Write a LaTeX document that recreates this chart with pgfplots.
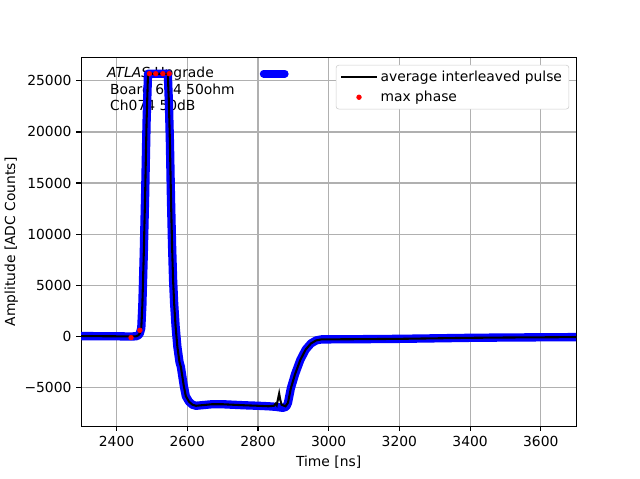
\documentclass[border=0pt]{standalone}
\usepackage{fontspec}
\setmainfont{DejaVu Sans}
\usepackage{pgfplots}
\pgfplotsset{compat=1.18}
\begin{document}
\begin{tikzpicture}
\begin{axis}[
 scale only axis, width=357.12pt, height=265.68pt,
 xmin=2300, xmax=3700, ymin=-8790, ymax=27250,
 xtick={2400,2600,...,3600},
 ytick={-5000,0,5000,10000,15000,20000,25000},
 yticklabels={−5000,0,5000,10000,15000,20000,25000},
 scaled y ticks=false, scaled x ticks=false,
 /pgf/number format/1000 sep={},
 /pgf/number format/assume math mode=true,
 grid=major, grid style={color=black!31, line width=0.8pt},
 axis line style={line width=0.8pt},
 tick style={black, line width=0.8pt}, tick align=outside, major tick length=3.5pt,
 tick pos=left,
 xlabel={Time [ns]}, ylabel={Amplitude [ADC Counts]},
 ylabel style={at={(rel axis cs:0,0.5)}, anchor=center, rotate=0, yshift=50.4pt},
 xlabel style={at={(rel axis cs:0.5,0)}, anchor=center, yshift=-26pt},
 legend style={at={(0.986,0.981)}, anchor=north east, draw=black!20, rounded corners=2pt, font=\fontsize{10}{12}\selectfont, row sep=1.5pt},
 legend image code/.code={\draw[mark repeat=2,mark phase=2,#1] plot coordinates {(0cm,0cm) (0.45cm,0cm) (0.9cm,0cm)};},
 legend cell align=left,
 ticklabel style={font=\fontsize{10}{12}\selectfont},
 label style={font=\fontsize{10}{12}\selectfont},
]
\node[anchor=north west, align=left, inner sep=0pt, font=\fontsize{10}{12}\selectfont] at (rel axis cs:0.052,0.976) {\textit{ATLAS} Upgrade\\ \hspace*{2.2pt}Board 634 50ohm\\ \hspace*{2.2pt}Ch074 50dB};
% blue scatter band
\addplot[blue, line width=6pt, line join=round, line cap=round, forget plot] coordinates {
(2300,20)(2350,10)(2400,0)(2440,-20)(2455,0)(2462,100)(2466,300)(2470,800)(2473,3000)(2477,8000)(2481,14000)(2485,21000)(2489,25700)
(2545,25700)(2548,23000)(2551,19000)(2554,13500)(2557,9000)(2560,5500)(2563,3200)(2567,1000)(2572,-1000)(2578,-2500)(2582,-3000)(2590,-4800)(2596,-5860)(2605,-6400)(2615,-6700)(2625,-6800)(2640,-6750)(2670,-6650)(2700,-6650)(2730,-6700)(2760,-6750)(2800,-6800)(2830,-6850)(2850,-6900)(2870,-7000)(2880,-6900)(2885,-6500)(2893,-5100)(2905,-3700)(2920,-2300)(2935,-1300)(2950,-700)(2965,-400)(2980,-300)(3000,-300)(3100,-280)(3200,-250)(3300,-200)(3400,-150)(3500,-120)(3600,-100)(3700,-80)};
\addplot[blue, line width=5.5pt, line cap=round, forget plot] coordinates {(2816,25700)(2876,25700)};
% black average
\addplot[black, line width=1.5pt] coordinates {
(2300,20)(2350,10)(2400,0)(2440,-20)(2455,0)(2462,100)(2466,300)(2470,800)(2473,3000)(2477,8000)(2481,14000)(2485,21000)(2489,25700)
(2545,25700)(2548,23000)(2551,19000)(2554,13500)(2557,9000)(2560,5500)(2563,3200)(2567,1000)(2572,-1000)(2578,-2500)(2582,-3000)(2590,-4800)(2596,-5860)(2605,-6400)(2615,-6700)(2625,-6800)(2640,-6750)(2670,-6650)(2700,-6650)(2730,-6700)(2760,-6750)(2800,-6800)(2830,-6850)(2845,-6800)(2850,-6600)(2853,-6750)(2857,-6100)(2860,-5600)(2863,-6200)(2867,-6700)(2878,-6850)(2885,-6500)(2893,-5100)(2905,-3700)(2920,-2300)(2935,-1300)(2950,-700)(2965,-400)(2980,-300)(3000,-300)(3100,-280)(3200,-250)(3300,-200)(3400,-150)(3500,-120)(3600,-100)(3700,-80)};
\addlegendentry{average interleaved pulse}
\addplot[only marks, mark=*, red, mark size=1.7pt] coordinates {(2441,-130)(2466,590)(2493,25700)(2511,25700)(2531,25700)(2549,25700)};
\addlegendentry{max phase}
\end{axis}
\path ([xshift=-57.6pt,yshift=-38.16pt]current axis.south west) rectangle ([xshift=46.08pt,yshift=41.76pt]current axis.north east);
\end{tikzpicture}
\end{document}
